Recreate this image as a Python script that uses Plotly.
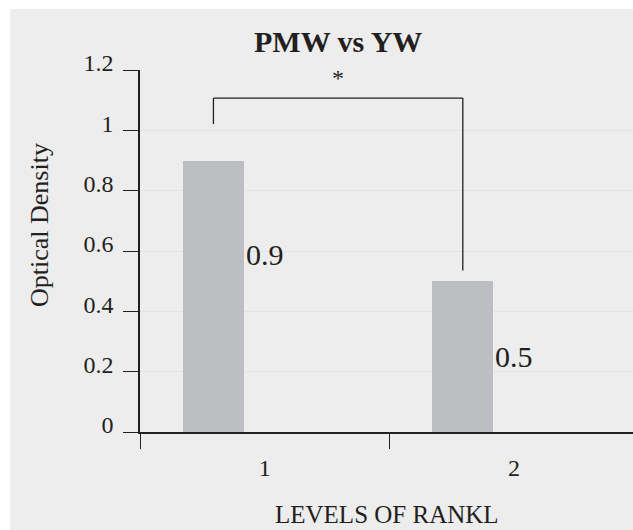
import plotly.graph_objects as go

# Optical density for each RANKL level
levels = ["1", "2"]
density = [0.9, 0.5]
y_ticks = [0, 0.2, 0.4, 0.6, 0.8, 1, 1.2]

INK = "#231F20"
BAR = "#BDBEC1"
BG = "#EDEDED"
GRID = "#E3E3E3"
FONT = "Liberation Serif"

W, H = 633, 530
L, R, T, B = 140, 0, 70, 98
plot_h = H - T - B

# bar geometry inside each category slot (category units)
bar_width = 0.246
bar_offset = -0.3285
bar_mid = bar_offset + bar_width / 2


def ypaper(px):
    return (H - B - px) / plot_h


def xpaper(px):
    return (px - L) / (W - L - R)


fig = go.Figure()
fig.add_trace(go.Bar(
    x=levels, y=density,
    width=bar_width, offset=bar_offset,
    marker=dict(color=BAR, line=dict(width=0)),
    hoverinfo="skip",
))

annotations = []
# value labels, to the right of each bar
label_heights = [0.588, 0.249]
for lvl, v, ly in zip(levels, density, label_heights):
    annotations.append(dict(
        x=levels.index(lvl) + bar_offset + bar_width, y=ly, xref="x", yref="y",
        text=f"{v:g}", showarrow=False, xanchor="left", yanchor="middle",
        font=dict(family=FONT, size=30, color=INK),
    ))

# significance bracket between the two bars
left_x = 0 + bar_mid
right_x = 1 + bar_mid
top_y = 1.107
shapes = [
    dict(type="line", xref="x", yref="y", x0=left_x, x1=right_x, y0=top_y, y1=top_y,
         line=dict(color=INK, width=1.3)),
    dict(type="line", xref="x", yref="y", x0=left_x, x1=left_x, y0=1.021, y1=top_y,
         line=dict(color=INK, width=1.3)),
    dict(type="line", xref="x", yref="y", x0=right_x, x1=right_x, y0=0.535, y1=top_y,
         line=dict(color=INK, width=1.3)),
    # white page border around the grey panel
    dict(type="rect", xref="paper", yref="paper", x0=-0.5, x1=xpaper(10), y0=-0.5, y1=1.5,
         fillcolor="white", line=dict(width=0), layer="above"),
    dict(type="rect", xref="paper", yref="paper", x0=-0.5, x1=1.5, y0=ypaper(9), y1=1.5,
         fillcolor="white", line=dict(width=0), layer="above"),
]
annotations.append(dict(
    x=(left_x + right_x) / 2, y=1.183, xref="x", yref="y", text="*", showarrow=False,
    yanchor="middle", yshift=-3, font=dict(family=FONT, size=24, color=INK),
))

# chart title
annotations.append(dict(
    x=(left_x + right_x) / 2, y=ypaper(42), xref="x", yref="paper",
    text="<b>PMW vs YW</b>", showarrow=False, yanchor="middle",
    font=dict(family=FONT, size=30, color=INK),
))
# axis titles
annotations.append(dict(
    x=xpaper(387), y=ypaper(514), xref="paper", yref="paper",
    text="LEVELS OF RANKL", showarrow=False, yanchor="middle",
    font=dict(family=FONT, size=25, color=INK),
))
annotations.append(dict(
    x=xpaper(39), y=ypaper(225), xref="paper", yref="paper",
    text="Optical Density", showarrow=False, textangle=-90,
    xanchor="center", yanchor="middle",
    font=dict(family=FONT, size=26, color=INK),
))

fig.update_layout(
    width=W, height=H,
    margin=dict(l=L, r=R, t=T, b=B, pad=0),
    paper_bgcolor=BG, plot_bgcolor=BG,
    showlegend=False,
    font=dict(family=FONT, color=INK),
    shapes=shapes, annotations=annotations,
    bargap=0,
)
fig.update_xaxes(
    type="category", categoryorder="array", categoryarray=levels,
    range=[-0.5, 1.477], tickson="boundaries",
    ticks="outside", ticklen=15, tickwidth=1.3, tickcolor=INK,
    showline=True, linecolor=INK, linewidth=1.5,
    showgrid=False, zeroline=False,
    tickfont=dict(family=FONT, size=24, color=INK),
    ticklabelstandoff=13,
)
fig.update_yaxes(
    range=[0, 1.2], tickvals=y_ticks,
    ticks="outside", ticklen=15, tickwidth=1.3, tickcolor=INK,
    showline=True, linecolor=INK, linewidth=1.5,
    showgrid=True, gridcolor=GRID, gridwidth=1, zeroline=False,
    tickfont=dict(family=FONT, size=24, color=INK),
    ticklabelstandoff=5, ticklabelshift=-7,
)

fig.write_html("out.html")
